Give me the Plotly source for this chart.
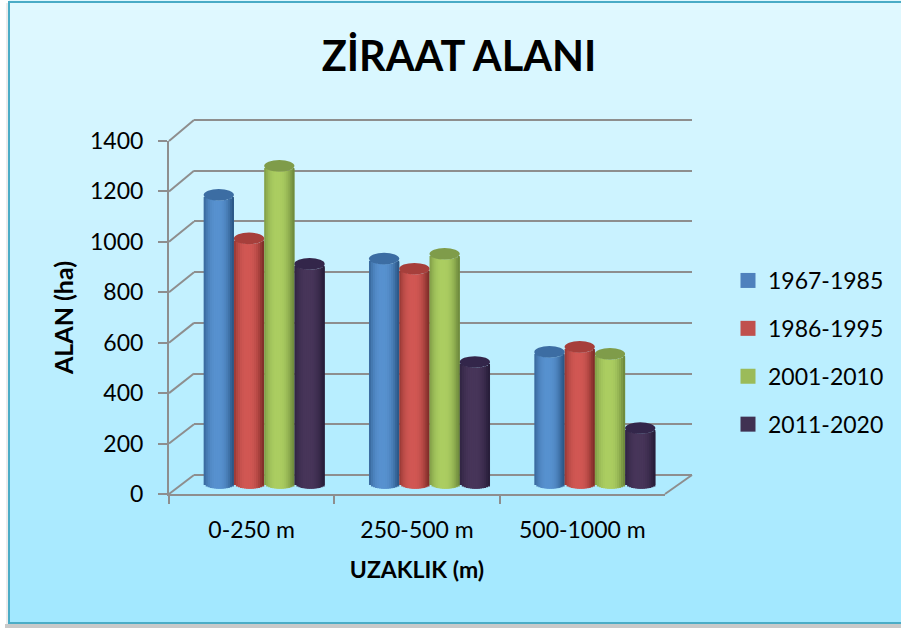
import plotly.graph_objects as go

W, H = 901, 628

categories = ["0-250 m", "250-500 m", "500-1000 m"]
periods = ["1967-1985", "1986-1995", "2001-2010", "2011-2020"]
vals_1967 = [1143, 890, 520]
vals_1986 = [970, 850, 540]
vals_2001 = [1258, 909, 512]
vals_2011 = [869, 480, 218]
series = [vals_1967, vals_1986, vals_2001, vals_2011]

legend_cols = ["#4f81bd", "#c0504d", "#9bbb59", "#403152"]
edge_cols = [(44, 88, 136), (130, 46, 42), (112, 140, 62), (40, 30, 58)]
mid_cols = [(88, 146, 208), (210, 88, 84), (172, 206, 98), (72, 54, 90)]
cap_cols = ["#3c6da3", "#a63f3b", "#7f9c4a", "#33264a"]

AXIS_GREY = "#8e8e8e"
FONT = "Lato"


def px_x(p):
    return p / W


def px_y(p):
    return 1 - p / H


fig = go.Figure()

# background gradient and frame
shapes = []
for i in range(0, 622, 10):
    f = i / 622
    col = "rgb(%d,%d,%d)" % (225 - 64 * f, 249 - 17 * f, 255)
    shapes.append(dict(type="rect", xref="paper", yref="paper", layer="below",
                       x0=px_x(9), x1=1, y0=px_y(min(i + 11, 623)), y1=px_y(i),
                       fillcolor=col, line_width=0))
shapes.append(dict(type="rect", xref="paper", yref="paper", layer="below",
                   x0=px_x(5), x1=1, y0=px_y(628), y1=px_y(624),
                   fillcolor="#c9c9c9", line_width=0))
shapes.append(dict(type="rect", xref="paper", yref="paper", layer="below",
                   x0=px_x(6), x1=px_x(8), y0=px_y(624), y1=px_y(3),
                   fillcolor="#ececec", line_width=0))
for x0, x1, y0, y1 in [(8, 901, 1, 3), (8, 10, 1, 624), (8, 901, 622, 624)]:
    shapes.append(dict(type="rect", xref="paper", yref="paper", layer="below",
                       x0=px_x(x0), x1=px_x(x1), y0=px_y(y1), y1=px_y(y0),
                       fillcolor="#4bacc6", line_width=0))

# diagonals joining front axis and back wall
for k in range(8):
    shapes.append(dict(type="line", xref="paper", yref="paper", layer="below",
                       x0=px_x(169), y0=px_y(494 - 50.43 * k),
                       x1=px_x(194), y1=px_y(475 - 50.71 * k),
                       line=dict(color=AXIS_GREY, width=2)))
shapes.append(dict(type="line", xref="paper", yref="paper", layer="below",
                   x0=px_x(665), y0=px_y(494), x1=px_x(692), y1=px_y(475),
                   line=dict(color=AXIS_GREY, width=2)))

# back wall grid
fig.add_trace(go.Scatter(x=categories, y=[None] * 3, xaxis="x", yaxis="y",
                         showlegend=False, hoverinfo="skip"))

# legend entries sit on the front axes, which also carry the tick labels
for name, col in zip(periods, legend_cols):
    fig.add_trace(go.Scatter(x=categories, y=[None] * 3, xaxis="x2", yaxis="y2",
                             name=name, mode="markers", legendgroup=name,
                             marker=dict(symbol="square", size=15, color=col)))

# cylinders, shaded with narrow strips (each one runs under the next to avoid seams)
BAR_W = 0.183
ELL_H = 23
N_STRIPS = 15
STRIP_W = BAR_W / N_STRIPS
for s, vals in enumerate(series):
    left = -2 * BAR_W + s * BAR_W
    for j in range(N_STRIPS):
        t = -1 + (2 * j + 1) / N_STRIPS
        glow = max(0, 1 - abs(t + 0.1) ** 2.4)
        col = "rgb(%d,%d,%d)" % tuple(
            e + (m - e) * glow for e, m in zip(edge_cols[s], mid_cols[s]))
        drop = ELL_H * (1 - t * t) ** 0.5
        fig.add_trace(go.Bar(x=categories, y=vals, base=[-drop] * 3,
                             offset=left + j * STRIP_W,
                             width=min(2, N_STRIPS - j) * STRIP_W,
                             marker=dict(color=col, line_width=0),
                             xaxis="x3", yaxis="y3", showlegend=False,
                             hoverinfo="skip"))
    for c, v in enumerate(vals):
        shapes.append(dict(type="circle", xref="x3", yref="y3", layer="above",
                           x0=c + left, x1=c + left + BAR_W,
                           y0=v - ELL_H, y1=v + ELL_H,
                           fillcolor=cap_cols[s], line_width=0))

fig.update_layout(
    width=W, height=H,
    margin=dict(l=0, r=0, t=0, b=0),
    paper_bgcolor="white",
    plot_bgcolor="rgba(0,0,0,0)",
    barmode="overlay",
    font=dict(family=FONT, color="#000000"),
    shapes=shapes,
    title=dict(text="<b>ZİRAAT ALANI</b>", x=459 / W, xanchor="center",
               y=px_y(56), yanchor="middle", font=dict(size=41.5, family=FONT)),
    legend=dict(x=px_x(728), xanchor="left", y=px_y(259), yanchor="top",
                font=dict(size=23, family=FONT), tracegroupgap=15,
                bgcolor="rgba(0,0,0,0)"),
    # back wall; range runs a little past the ends so the 0 and 1400 lines are kept
    xaxis=dict(domain=[px_x(194), px_x(692)], type="category", range=[-0.5, 2.5],
               showgrid=False, showticklabels=False, ticks="", zeroline=False,
               showline=False, anchor="y", automargin=False),
    yaxis=dict(domain=[px_y(477.5), px_y(117.5)], range=[-10, 1410], dtick=200,
               tick0=0, showgrid=True, gridcolor=AXIS_GREY, gridwidth=2,
               showticklabels=False, ticks="", zeroline=False, showline=False,
               anchor="x", automargin=False),
    # front axes
    xaxis2=dict(domain=[px_x(169), px_x(665)], type="category", range=[-0.5, 2.5],
                showgrid=False, zeroline=False, showline=True, linecolor=AXIS_GREY,
                linewidth=2, ticks="outside", tickson="boundaries", ticklen=8,
                tickwidth=2, tickcolor=AXIS_GREY, ticklabelstandoff=14,
                tickfont=dict(size=23, family=FONT), anchor="y2", automargin=False,
                title=dict(text="<b>UZAKLIK (m)</b>", font=dict(size=23, family=FONT),
                           standoff=20)),
    yaxis2=dict(domain=[px_y(494), px_y(141)], range=[0, 1400], dtick=200,
                showgrid=False, zeroline=False, showline=True, linecolor=AXIS_GREY,
                linewidth=2, ticks="outside", ticklen=9, tickwidth=2,
                tickcolor=AXIS_GREY, ticklabelstandoff=10,
                tickfont=dict(size=23, family=FONT), anchor="x2", automargin=False,
                title=dict(text="<b>ALAN (ha)</b>", font=dict(size=25, family=FONT),
                           standoff=9)),
    # plane through the middle of the cylinders
    xaxis3=dict(domain=[px_x(181.5), px_x(677.5)], type="category", range=[-0.5, 2.5],
                visible=False, anchor="y3", automargin=False),
    yaxis3=dict(domain=[px_y(495.6), px_y(130)], range=[-50, 1400],
                visible=False, anchor="x3", automargin=False),
)

fig.write_html("out.html", config={"displayModeBar": False},
               post_script="document.body.style.margin='0';")
